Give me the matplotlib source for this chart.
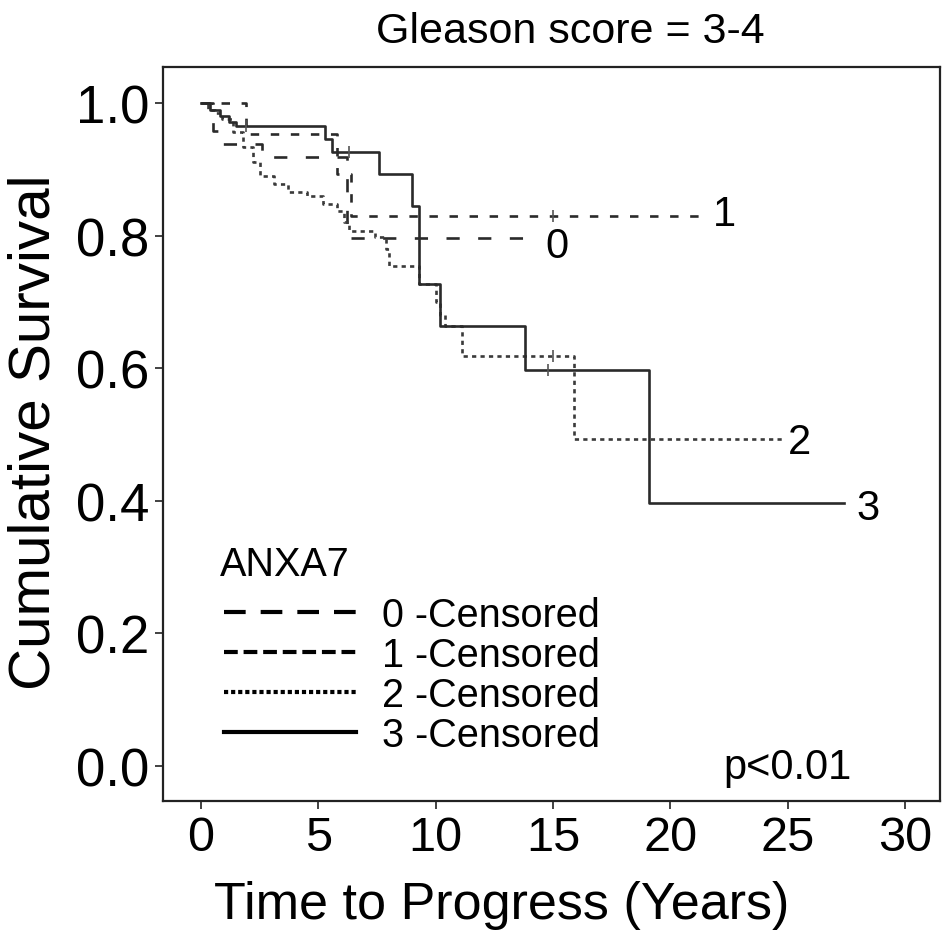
import matplotlib
matplotlib.use("Agg")
import matplotlib.pyplot as plt
from matplotlib.lines import Line2D

plt.rcParams['font.family'] = ['Liberation Sans', 'DejaVu Sans']

# ---- data ----
groups = ["0", "1", "2", "3"]

t0 = [0, 0.5, 0.8, 2.6, 6.2, 14.5]
s0 = [1.0, 0.958, 0.938, 0.918, 0.796, 0.796]

t1 = [0, 1.9, 5.8, 6.4, 21.6]
s1 = [1.0, 0.953, 0.893, 0.830, 0.830]

t2 = [0, 0.3, 0.6, 0.9, 1.36, 1.8, 2.2, 2.5, 3.1, 3.7, 4.5, 5.2, 5.8, 6.1, 6.3,
      7.4, 7.9, 8.0, 9.3, 10.0, 10.2, 10.4, 11.1, 15.9, 24.8]
s2 = [1.0, 0.99, 0.985, 0.976, 0.956, 0.934, 0.911, 0.89, 0.878, 0.866, 0.86,
      0.848, 0.837, 0.82, 0.807, 0.798, 0.78, 0.754, 0.727, 0.70, 0.68, 0.664,
      0.618, 0.493, 0.493]

t3 = [0, 0.4, 0.8, 1.2, 1.5, 5.3, 5.6, 7.6, 9.0, 9.3, 10.2, 13.8, 19.1, 27.4]
s3 = [1.0, 0.99, 0.98, 0.972, 0.965, 0.946, 0.926, 0.893, 0.845, 0.727,
      0.664, 0.598, 0.397, 0.397]

# censored marks
c1_t, c1_s = [15.0], [0.830]
c2_t, c2_s = [15.0], [0.618]
c3_t, c3_s = [1.9, 6.3, 14.8], [0.965, 0.926, 0.598]

xticks = [0, 5, 10, 15, 20, 25, 30]
yticks = [0.0, 0.2, 0.4, 0.6, 0.8, 1.0]

W, H = 943, 953
fig = plt.figure(figsize=(W / 100, H / 100), dpi=100)
ax = fig.add_axes([163 / W, 1 - 802 / H, (940 - 163) / W, (802 - 68) / H])

col = '#2a2a2a'
lw = 1.9
ax.plot(t0, s0, drawstyle='steps-post', color=col, lw=lw, dashes=(5, 7))
ax.plot(t1, s1, drawstyle='steps-post', color=col, lw=lw, dashes=(3.2, 4.4))
ax.plot(t2, s2, drawstyle='steps-post', color='#3a3a3a', lw=lw, dashes=(1.6, 1.6))
ax.plot(t3, s3, drawstyle='steps-post', color=col, lw=lw)

for ct, cs in [(c1_t, c1_s), (c2_t, c2_s), (c3_t, c3_s)]:
    ax.plot(ct, cs, linestyle='none', marker='|', markersize=9,
            markeredgewidth=1.2, color='#555555')

# end labels
for name, tt, ss, dx, dy in [("0", t0, s0, 11.5, -5.8), ("1", t1, s1, 12, 1),
                             ("2", t2, s2, 12, -2), ("3", t3, s3, 17, -3.6)]:
    ax.annotate(name, xy=(tt[-1], ss[-1]), xytext=(dx, dy),
                textcoords='offset points', ha='center', va='center',
                fontsize=30, color='black')

ax.set_xlim(-1.62, 31.49)
ax.set_ylim(-0.0528, 1.0543)
ax.set_xticks(xticks)
ax.set_xticklabels([str(v) for v in xticks])
ax.set_yticks(yticks)
ax.set_yticklabels([f"{v:.1f}" for v in yticks])
ax.tick_params(axis='both', direction='out', length=6, width=1.3, colors='#333333',
               labelcolor='black')
ax.tick_params(axis='x', labelsize=35, pad=4)
ax.tick_params(axis='y', labelsize=38, pad=4)
for sp in ax.spines.values():
    sp.set_linewidth(1.6)
    sp.set_color('#222222')

ax.set_xlabel("Time to Progress (Years)", fontsize=37.5)
ax.xaxis.set_label_coords((502 - 163) / 777, (802 - 906) / 734)
ax.xaxis.label.set_va('center')
ax.set_ylabel("Cumulative Survival", fontsize=42)
ax.yaxis.set_label_coords((35 - 163) / 777, (802 - 432) / 734)
ax.yaxis.label.set_va('center')
ax.yaxis.label.set_ha('center')

fig.text(570 / W, 1 - 32 / H, "Gleason score = 3-4", ha='center', va='center',
         fontsize=31)

ax.text((788 - 163) / 777, (802 - 768) / 734, "p<0.01", transform=ax.transAxes,
        ha='center', va='center', fontsize=30)

fig.text(220 / W, 1 - 565 / H, "ANXA7", ha='left', va='center', fontsize=28.5)

handles = [Line2D([], [], color='black', lw=3, dashes=(5.2, 3.6)),
           Line2D([], [], color='black', lw=3, dashes=(3.3, 1.4)),
           Line2D([], [], color='black', lw=3, dashes=(1.0, 0.7)),
           Line2D([], [], color='black', lw=3)]
labels = [f"{g} -Censored" for g in groups]
leg = ax.legend(handles, labels, loc='upper left',
                bbox_to_anchor=(224 / W, 1 - 597 / H), bbox_transform=fig.transFigure,
                frameon=False, fontsize=28.5,
                handlelength=3.33, handletextpad=0.65, labelspacing=0.05,
                borderpad=0, borderaxespad=0)

fig.savefig("out.png", dpi=100)
